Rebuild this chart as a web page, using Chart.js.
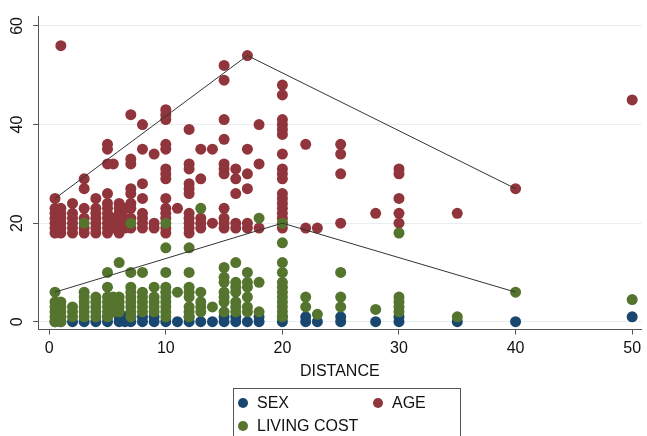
<!DOCTYPE html>
<html lang="en">
<head>
<meta charset="UTF-8" />
<title>Distance scatter</title>
<script src="https://cdn.jsdelivr.net/npm/chart.js@4.4.0/dist/chart.umd.min.js"></script>
<style>
  body { margin: 0; background: #fff; }
</style>
</head>
<body>
<canvas id="chart" width="647" height="436"></canvas>
<script>
// values: [distance, [values at that distance]]
const sexByDistance = [
  [0.5, [0]], [1, [0, 1]], [2, [0]], [3, [0]], [4, [0]], [5, [0, 1]], [6, [0, 1]], [6.5, [0, 1]],
  [7, [0, 1]], [8, [0, 1]], [9, [0, 1]], [10, [0]], [11, [0]], [12, [0, 1]], [13, [0]], [14, [0]],
  [15, [0, 1]], [16, [0, 1]], [17, [0]], [18, [0, 1]], [20, [0, 1]], [22, [0, 1]], [23, [0]],
  [25, [0, 1]], [28, [0]], [30, [0, 1]], [35, [0]], [40, [0]], [50, [1]]
];

const ageByDistance = [
  [0.5, [25, 23, 22, 21, 20, 19, 18]],
  [1, [56, 23, 22, 21, 20, 19, 18]],
  [2, [24, 22, 21, 20, 19, 18]],
  [3, [29, 27, 23, 21, 19, 18]],
  [4, [25, 23, 22, 21, 20, 19, 18]],
  [5, [36, 35, 32, 26, 24, 23, 22, 21, 20, 19, 18]],
  [5.5, [32, 21, 19]],
  [6, [24, 23, 22, 21, 20, 19, 18]],
  [6.5, [23, 21, 20, 19]],
  [7, [42, 33, 32, 27, 26, 24, 23, 21, 19]],
  [8, [40, 35, 28, 25, 22, 21, 20, 19]],
  [9, [34, 20, 19]],
  [10, [43, 42, 41, 36, 35, 31, 30, 29, 25, 23, 22, 21, 19, 18]],
  [11, [23]],
  [12, [39, 32, 31, 28, 27, 26, 22, 21, 20, 19, 18]],
  [13, [35, 29, 21, 20, 19]],
  [14, [35, 20]],
  [15, [52, 49, 41, 37, 32, 31, 30, 23, 21, 20, 19]],
  [16, [31, 29, 26, 20, 19]],
  [17, [54, 35, 30, 27, 20, 19]],
  [18, [40, 32, 19]],
  [20, [48, 46, 41, 40, 39, 38, 34, 31, 30, 29, 26, 25, 24, 23, 22, 21, 20, 19]],
  [22, [36, 19]],
  [23, [19]],
  [25, [36, 34, 30, 20]],
  [28, [22]],
  [30, [31, 30, 25, 22, 20]],
  [35, [22]],
  [40, [27]],
  [50, [45]]
];

const costByDistance = [
  [0.5, [6, 4, 3, 2, 1, 0]],
  [1, [4, 3, 2, 1, 0]],
  [2, [3, 2, 1]],
  [3, [20, 6, 5, 4, 3, 2, 1]],
  [4, [5, 4, 3, 2, 1]],
  [5, [10, 7, 5, 4, 3, 2, 1]],
  [5.5, [5, 3, 2]],
  [6, [12, 5, 4, 3, 2]],
  [7, [20, 10, 7, 6, 5, 4, 3, 2, 1]],
  [8, [10, 6, 5, 4, 3, 2]],
  [9, [7, 5, 4, 3, 2]],
  [10, [20, 15, 10, 7, 6, 5, 4, 3, 2, 1]],
  [11, [6]],
  [12, [15, 10, 7, 6, 5, 3, 2, 1]],
  [13, [23, 6, 4, 3, 2]],
  [14, [3]],
  [15, [11, 9, 8, 6, 5, 4, 2]],
  [16, [12, 8, 7, 6, 4, 3, 2]],
  [17, [10, 8, 7, 5, 3, 2]],
  [18, [21, 8, 2]],
  [20, [20, 16, 12, 10, 8, 7, 6, 5, 4, 3, 2, 1]],
  [22, [5, 3]],
  [23, [1.5]],
  [25, [10, 5, 3]],
  [28, [2.5]],
  [30, [18, 5, 4, 3, 2]],
  [35, [1]],
  [40, [6]],
  [50, [4.5]]
];

// the two connecting lines
const ageLine = [[0.5, 25], [17, 54], [40, 27]];
const costLine = [[0.5, 6], [20, 20], [40, 6]];

const xTicks = [0, 10, 20, 30, 40, 50];
const yTicks = [0, 20, 40, 60];

const BLUE = '#1a476f', RED = '#90353b', GREEN = '#55752f';

function toPoints(cols) {
  const pts = [];
  cols.forEach(([d, vals]) => vals.forEach(v => pts.push({x: d, y: v})));
  return pts;
}
const pairs = arr => arr.map(([x, y]) => ({x, y}));

// legend in a box, two columns, like the original
const boxLegend = {
  id: 'boxLegend',
  afterDraw(chart) {
    const ctx = chart.ctx;
    const ds = chart.data.datasets;
    const items = [
      {ds: ds[0], x: 243, y: 403},
      {ds: ds[1], x: 378, y: 403},
      {ds: ds[2], x: 243, y: 426}
    ];
    ctx.save();
    ctx.strokeStyle = '#555';
    ctx.lineWidth = 1;
    ctx.strokeRect(233.5, 388.5, 227, 60);
    ctx.font = '16px "Liberation Sans", Arial, sans-serif';
    ctx.textBaseline = 'middle';
    ctx.textAlign = 'left';
    items.forEach(it => {
      ctx.fillStyle = it.ds.backgroundColor;
      ctx.beginPath();
      ctx.arc(it.x, it.y, 5, 0, Math.PI * 2);
      ctx.fill();
      ctx.fillStyle = '#111';
      ctx.fillText(it.ds.label, it.x + 14, it.y + 1);
    });
    ctx.restore();
  }
};

const ctx = document.getElementById('chart').getContext('2d');
new Chart(ctx, {
  type: 'scatter',
  data: {
    datasets: [
      {label: 'SEX', data: toPoints(sexByDistance), backgroundColor: BLUE, borderWidth: 0, pointRadius: 5.5, order: 3},
      {label: 'AGE', data: toPoints(ageByDistance), backgroundColor: RED, borderWidth: 0, pointRadius: 5.5, order: 2},
      {label: 'LIVING COST', data: toPoints(costByDistance), backgroundColor: GREEN, borderWidth: 0, pointRadius: 5.5, order: 1},
      {label: 'age line', data: pairs(ageLine), showLine: true, borderColor: '#333', borderWidth: 1, pointRadius: 0, order: 0},
      {label: 'cost line', data: pairs(costLine), showLine: true, borderColor: '#333', borderWidth: 1, pointRadius: 0, order: 0}
    ]
  },
  options: {
    responsive: false,
    animation: false,
    layout: {padding: {top: 13, right: 0, bottom: 51, left: 0}},
    plugins: {
      legend: {display: false},
      tooltip: {enabled: false}
    },
    scales: {
      x: {
        type: 'linear',
        min: -0.96,
        max: 50.8,
        afterBuildTicks: s => { s.ticks = xTicks.map(v => ({value: v})); },
        grid: {drawOnChartArea: false, tickLength: 5, tickColor: '#555'},
        border: {color: '#555'},
        ticks: {padding: 4, color: '#111', font: {family: '"Liberation Sans", Arial', size: 16}},
        title: {display: true, text: 'DISTANCE', color: '#111', padding: {top: 0, bottom: 4},
                font: {family: '"Liberation Sans", Arial', size: 16}}
      },
      y: {
        type: 'linear',
        min: -1.6,
        max: 61.9,
        afterBuildTicks: s => { s.ticks = yTicks.map(v => ({value: v})); },
        afterFit: s => { s.width = 38; },
        grid: {color: '#e6eef0', tickLength: 5, tickColor: '#555'},
        border: {color: '#555'},
        ticks: {minRotation: 90, maxRotation: 90, crossAlign: 'center', padding: 7, color: '#111',
                font: {family: '"Liberation Sans", Arial', size: 16}}
      }
    }
  },
  plugins: [boxLegend]
});
</script>
</body>
</html>
